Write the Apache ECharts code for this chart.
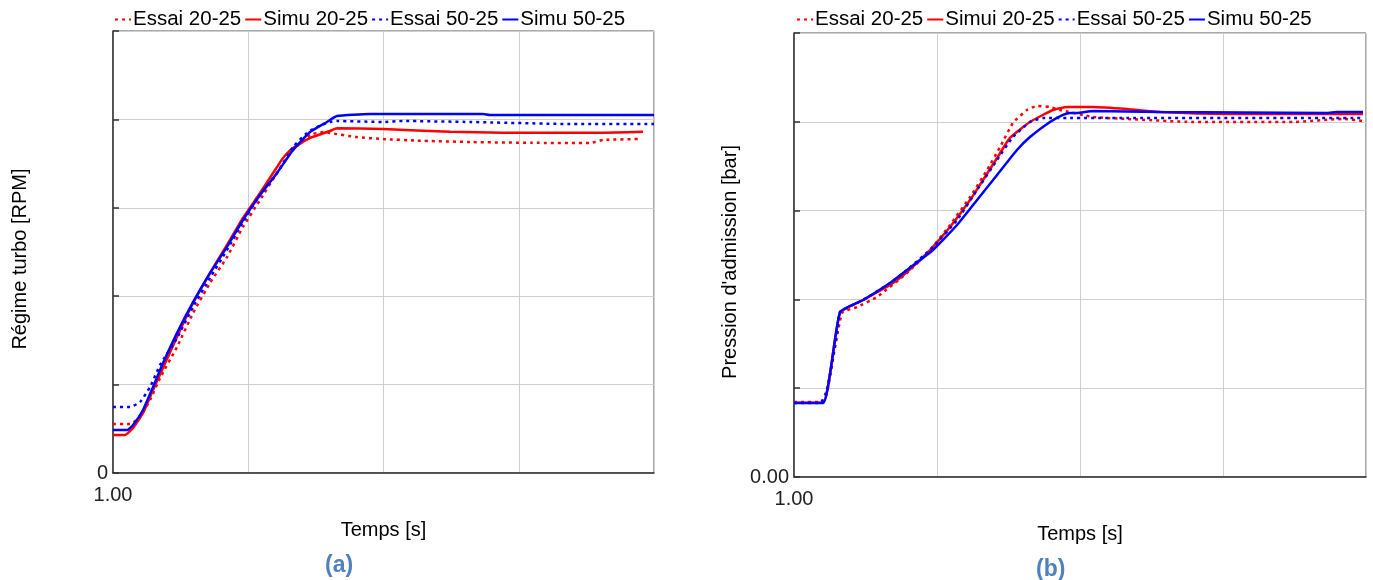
<!DOCTYPE html>
<html>
<head>
<meta charset="utf-8">
<script src="https://cdn.jsdelivr.net/npm/echarts@6/dist/echarts.min.js"></script>
<style>
html,body{margin:0;padding:0;background:#fff;}
#c{width:1373px;height:580px;}
</style>
</head>
<body>
<div id="c"></div>
<script>
// ---------- Chart (a) : Régime turbo ----------
const legendA = ['Essai 20-25', 'Simu 20-25', 'Essai 50-25', 'Simu 50-25'];
const essai2025A_t = [1.000,1.126,1.200,1.274,1.348,1.473,1.592,1.717,1.843,1.961,2.087,2.213,2.331,2.457,2.553,2.604,2.800,2.996,3.250,3.640,4.100,4.527,4.623,4.897];
const essai2025A_v = [0.554,0.554,0.633,0.826,1.075,1.425,1.810,2.149,2.443,2.783,3.088,3.394,3.654,3.824,3.857,3.846,3.800,3.778,3.760,3.744,3.735,3.733,3.767,3.778];
const simu2025A_t = [1.000,1.089,1.148,1.222,1.296,1.473,1.592,1.717,1.843,1.961,2.087,2.213,2.257,2.331,2.457,2.604,2.656,2.996,3.492,3.884,4.623,4.919];
const simu2025A_v = [0.430,0.430,0.509,0.679,0.939,1.538,1.923,2.262,2.579,2.885,3.167,3.462,3.563,3.676,3.790,3.869,3.900,3.891,3.860,3.850,3.850,3.860];
const essai5025A_t = [1.000,1.126,1.200,1.274,1.348,1.473,1.592,1.717,1.843,1.961,2.087,2.213,2.331,2.434,2.508,2.604,2.656,2.996,3.144,3.640,4.379,5.000];
const essai5025A_v = [0.747,0.747,0.803,0.973,1.222,1.527,1.878,2.206,2.523,2.839,3.145,3.394,3.688,3.846,3.914,3.971,3.982,3.971,3.982,3.971,3.948,3.948];
const simu5025A_t = [1.000,1.104,1.148,1.222,1.296,1.370,1.473,1.592,1.717,1.843,1.961,2.087,2.213,2.331,2.457,2.582,2.656,2.900,3.736,3.787,5.000];
const simu5025A_v = [0.486,0.486,0.543,0.713,0.973,1.244,1.584,1.934,2.262,2.557,2.862,3.145,3.394,3.654,3.857,3.971,4.038,4.061,4.061,4.050,4.050];

// ---------- Chart (b) : Pression d'admission ----------
const legendB = ['Essai 20-25', 'Simui 20-25', 'Essai 50-25', 'Simu 50-25'];
const essai2025B_t = [1.000,1.196,1.231,1.336,1.441,1.580,1.790,1.951,2.091,2.231,2.350,2.441,2.531,2.629,2.699,2.790,2.860,3.091,3.329,3.790,4.490,4.839,4.979];
const essai2025B_v = [0.845,0.845,0.946,1.847,1.914,2.027,2.297,2.556,2.838,3.153,3.457,3.716,3.986,4.133,4.178,4.167,4.133,4.054,4.032,3.998,3.998,4.032,4.009];
const simu2025B_t = [1.000,1.203,1.322,1.483,1.671,1.790,1.951,2.091,2.231,2.322,2.420,2.510,2.650,2.811,2.909,3.091,3.329,3.559,4.028,4.979];
const simu2025B_v = [0.837,0.837,1.847,1.993,2.162,2.309,2.556,2.815,3.119,3.345,3.592,3.818,3.998,4.133,4.167,4.167,4.144,4.110,4.088,4.088];
const essai5025B_t = [1.000,1.182,1.231,1.301,1.322,1.483,1.671,1.790,1.972,2.140,2.280,2.420,2.531,2.650,2.741,2.930,3.329,4.490,4.979];
const essai5025B_v = [0.833,0.833,0.980,1.622,1.858,1.993,2.185,2.331,2.590,2.894,3.232,3.570,3.829,3.998,4.043,4.043,4.043,4.043,4.043];
const simu5025B_t = [1.000,1.203,1.322,1.483,1.671,1.790,1.972,2.140,2.280,2.420,2.559,2.650,2.790,2.881,2.930,2.979,3.091,3.559,4.727,4.797,4.979];
const simu5025B_v = [0.833,0.833,1.858,1.993,2.185,2.331,2.556,2.838,3.119,3.401,3.682,3.829,3.998,4.077,4.099,4.099,4.122,4.110,4.099,4.110,4.110];

// axis ranges and tick labels
const xMin = 1, xMax = 5, xStep = 1;
const yMin = 0, yMax = 5, yStep = 1;
const xTickLabelA = '1.00', yTickLabelA = '0';
const xTickLabelB = '1.00', yTickLabelB = '0.00';
const xNameA = 'Temps [s]', yNameA = 'Régime turbo [RPM]';
const xNameB = 'Temps [s]', yNameB = "Pression d'admission [bar]";
const panelA = '(a)', panelB = '(b)';

const zip = (t, v) => t.map((x, i) => [x, v[i]]);
const FONT = 'Liberation Sans, Arial, sans-serif';
const RED = '#ff0000', BLUE = '#0000ff';

function xAxisCfg(idx, label, name) {
  return {
    type: 'value', gridIndex: idx, min: xMin, max: xMax, interval: xStep,
    name: name, nameLocation: 'middle', nameGap: 47,
    nameTextStyle: { fontFamily: FONT, fontSize: 20, color: '#000' },
    axisLine: { show: true, lineStyle: { color: '#333', width: 1.5 } },
    axisTick: { show: false },
    splitLine: { show: true, lineStyle: { color: '#cfcfcf', width: 1 } },
    axisLabel: { fontFamily: FONT, fontSize: 20, color: '#222', margin: 12,
      formatter: v => (v === xMin ? label : '') }
  };
}
function yAxisCfg(idx, label, name, gap) {
  return {
    type: 'value', gridIndex: idx, min: yMin, max: yMax, interval: yStep,
    name: name, nameLocation: 'middle', nameGap: gap,
    nameTextStyle: { fontFamily: FONT, fontSize: 20, color: '#000', padding: [0, 14, 0, 0] },
    axisLine: { show: true, lineStyle: { color: '#333', width: 1.5 } },
    axisTick: { show: true, inside: true, length: 6, lineStyle: { color: '#333', width: 1.5 } },
    splitLine: { show: true, lineStyle: { color: '#cfcfcf', width: 1 } },
    axisLabel: { fontFamily: FONT, fontSize: 20, color: '#222', margin: 5,
      formatter: v => (v === yMin ? label : '') }
  };
}
function ser(name, idx, t, v, color, dotted) {
  return {
    type: 'line', name: name, xAxisIndex: idx, yAxisIndex: idx,
    data: zip(t, v), symbol: 'none', smooth: 0.15, animation: false,
    lineStyle: { color: color, width: 2.5, type: dotted ? [3, 4] : 'solid' },
    itemStyle: { color: color }
  };
}
function legendCfg(idx, data, left) {
  return {
    data: data, left: left, top: 9, padding: 0,
    itemWidth: 16, itemHeight: 12, itemGap: 3,
    itemStyle: { opacity: 0, borderWidth: 0 },
    textStyle: { fontFamily: FONT, fontSize: 20.5, color: '#000', padding: [0, 0, 0, -3] }
  };
}

const chart = echarts.init(document.getElementById('c'), null, { renderer: 'canvas' });
chart.setOption({
  backgroundColor: '#fff',
  animation: false,
  title: [
    { text: panelA, left: 320, top: 549, textStyle: { fontFamily: FONT, fontSize: 23, fontWeight: 'bold', color: '#4f81bd' } },
    { text: panelB, left: 1031, top: 553, textStyle: { fontFamily: FONT, fontSize: 23, fontWeight: 'bold', color: '#4f81bd' } }
  ],
  legend: [legendCfg(0, legendA, 114), legendCfg(1, legendB, 796)],
  grid: [
    { left: 113, top: 31, width: 541, height: 442, show: true, borderColor: '#555', borderWidth: 1 },
    { left: 794, top: 33, width: 572, height: 444, show: true, borderColor: '#555', borderWidth: 1 }
  ],
  xAxis: [xAxisCfg(0, xTickLabelA, xNameA), xAxisCfg(1, xTickLabelB, xNameB)],
  yAxis: [yAxisCfg(0, yTickLabelA, yNameA, 83), yAxisCfg(1, yTickLabelB, yNameB, 54)],
  series: [
    ser(legendA[0], 0, essai2025A_t, essai2025A_v, RED, true),
    ser(legendA[1], 0, simu2025A_t, simu2025A_v, RED, false),
    ser(legendA[2], 0, essai5025A_t, essai5025A_v, BLUE, true),
    ser(legendA[3], 0, simu5025A_t, simu5025A_v, BLUE, false),
    ser(legendB[0], 1, essai2025B_t, essai2025B_v, RED, true),
    ser(legendB[1], 1, simu2025B_t, simu2025B_v, RED, false),
    ser(legendB[2], 1, essai5025B_t, essai5025B_v, BLUE, true),
    ser(legendB[3], 1, simu5025B_t, simu5025B_v, BLUE, false)
  ]
});
</script>
</body>
</html>
